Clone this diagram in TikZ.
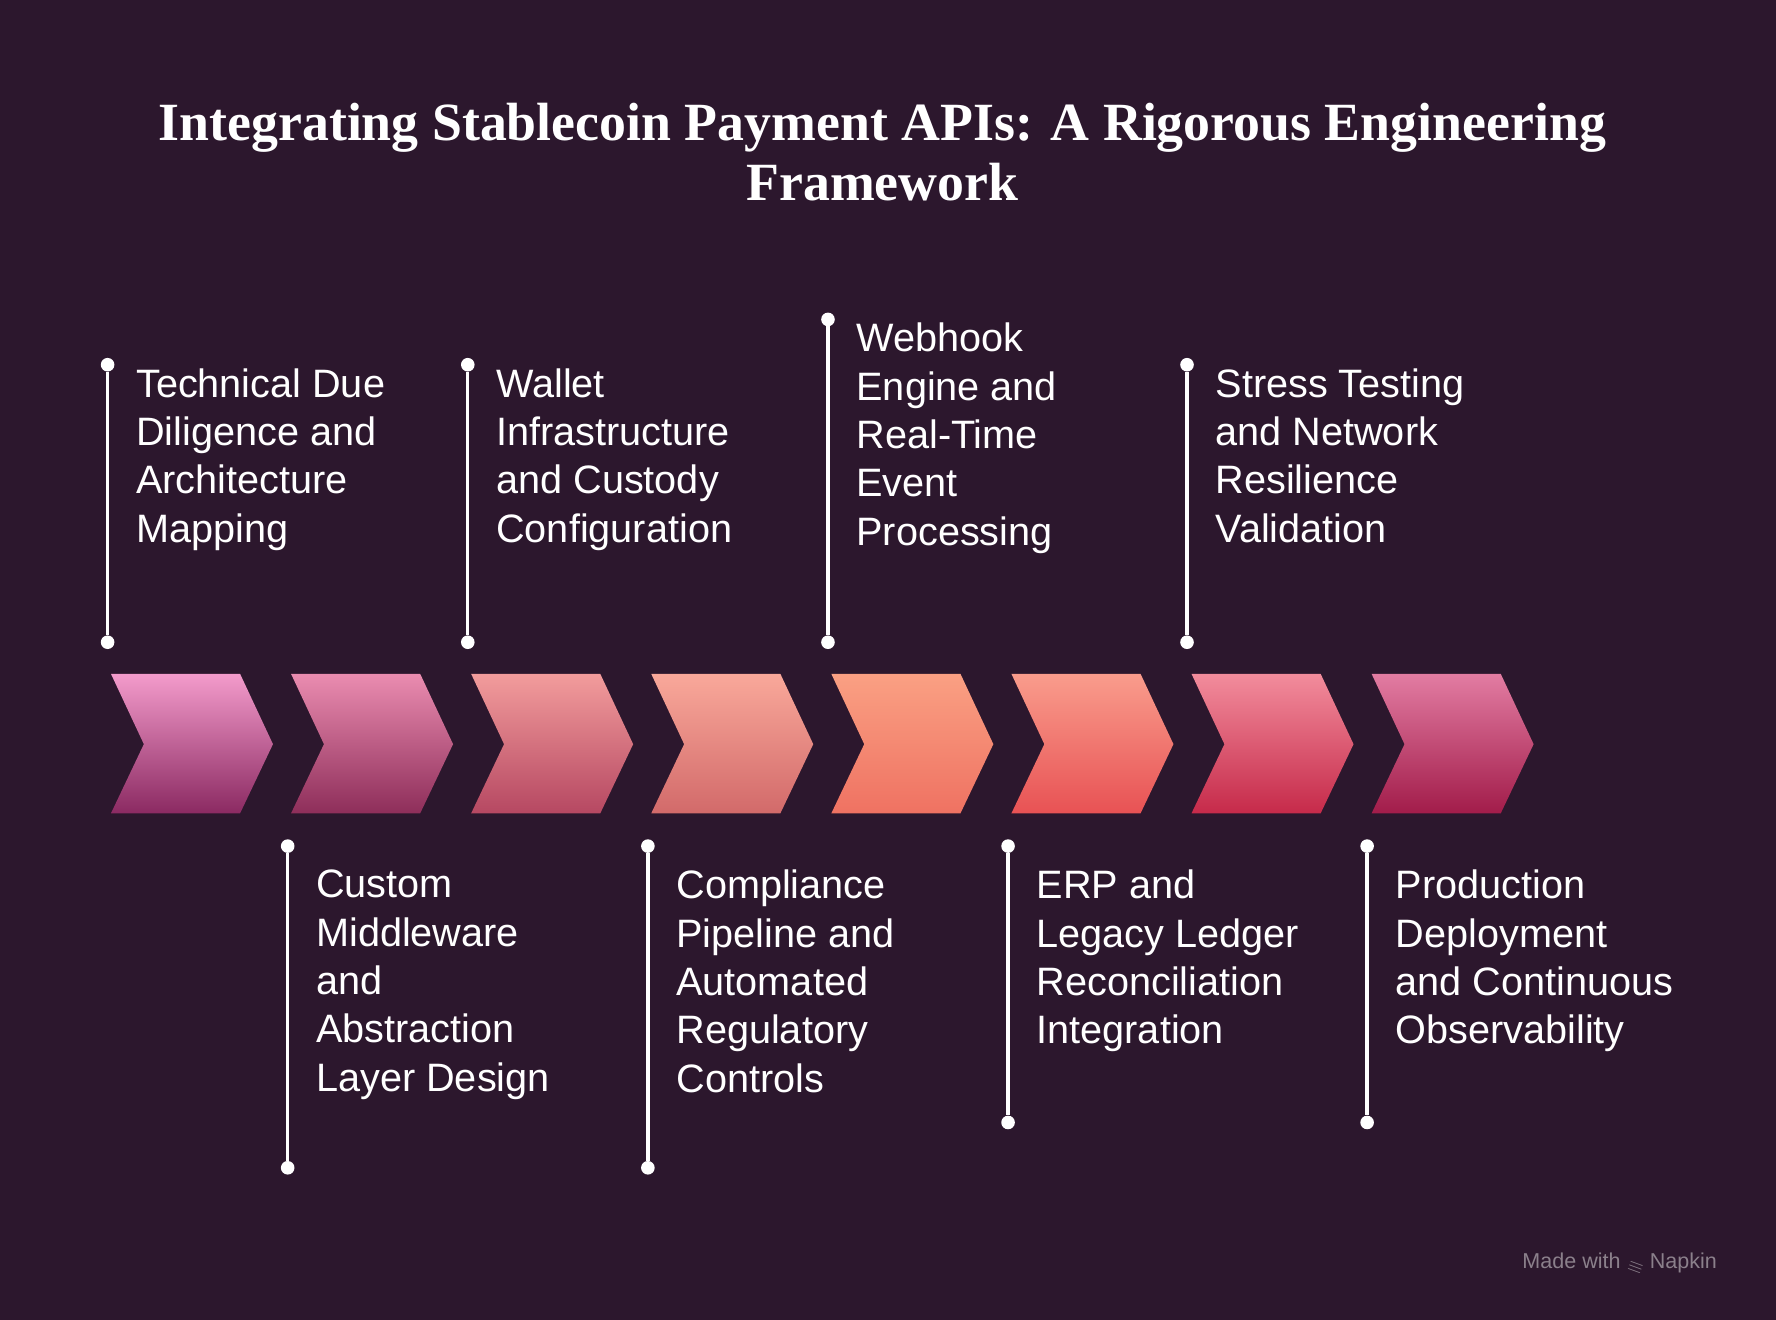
\documentclass[tikz,border=0pt]{standalone}
\usepackage{fontspec}
\setmainfont{Liberation Sans}
\newfontfamily\titlefont{Liberation Serif}
\begin{document}
\begin{tikzpicture}[x=1pt,y=-1pt,
  lbl/.style={anchor=north west,inner sep=0,align=left,text=white,font=\fontsize{35}{42.7}\selectfont},
  stem/.style={draw=white,line width=3pt},
  dot/.style={circle,fill=white,inner sep=0,minimum size=12pt}]
\definecolor{bg}{HTML}{2C172D}
\fill[bg] (0,0) rectangle (1568,1165);
\useasboundingbox (0,0) rectangle (1568,1165);
\node[text=white,align=center,font=\titlefont\bfseries\fontsize{47.5}{53}\selectfont] (title) at (779,134) {Integrating Stablecoin Payment APIs: A Rigorous Engineering\\Framework};
% chevrons
\foreach \i/\tc/\bc in {0/F39BCB/8B2A62,1/EA8CB0/8E2E5A,2/F29C9C/B64862,3/F9A89A/D26A6A,4/FAA083/EF7262,5/F99C8C/E85254,6/F28C9C/C62A4A,7/E27CA2/A21C4A}{
  \definecolor{tc}{HTML}{\tc}\definecolor{bc}{HTML}{\bc}
  \pgfmathsetmacro\xo{98+159*\i}
  \shade[top color=tc,bottom color=bc] (\xo,595) -- (\xo+114,595) -- (\xo+143,657) -- (\xo+114,718) -- (\xo,718) -- (\xo+29,657) -- cycle;
}
% top items
\foreach \n/\x/\yt/\t in {a/95/322/{Technical Due\\Diligence and\\Architecture\\Mapping},c/413/322/{Wallet\\Infrastructure\\and Custody\\Configuration},e/731/282/{Webhook\\Engine and\\Real-Time\\Event\\Processing},g/1048/322/{Stress Testing\\and Network\\Resilience\\Validation}}{
  \node[dot] (\n1) at (\x,\yt) {};
  \node[dot] (\n2) at (\x,567) {};
  \draw[stem] (\n1) -- (\n2);
  \node[lbl] (\n t) at (\x+25,\yt+3) {\t};
}
% bottom items
\foreach \n/\x/\yb/\t in {b/254/1031/{Custom\\Middleware\\and\\Abstraction\\Layer Design},d/572/1031/{Compliance\\Pipeline and\\Automated\\Regulatory\\Controls},f/890/991/{ERP and\\Legacy Ledger\\Reconciliation\\Integration},h/1207/991/{Production\\Deployment\\and Continuous\\Observability}}{
  \node[dot] (\n1) at (\x,747) {};
  \node[dot] (\n2) at (\x,\yb) {};
  \draw[stem] (\n1) -- (\n2);
  \node[lbl] (\n t) at (\x+25,768) {\t};
}
\node[text=white!45!bg,font=\fontsize{19}{22}\selectfont] (wm) at (1430,1116) {Made with \raisebox{-1pt}{\rotatebox{-20}{$\equiv$}} Napkin};
\end{tikzpicture}
\end{document}
